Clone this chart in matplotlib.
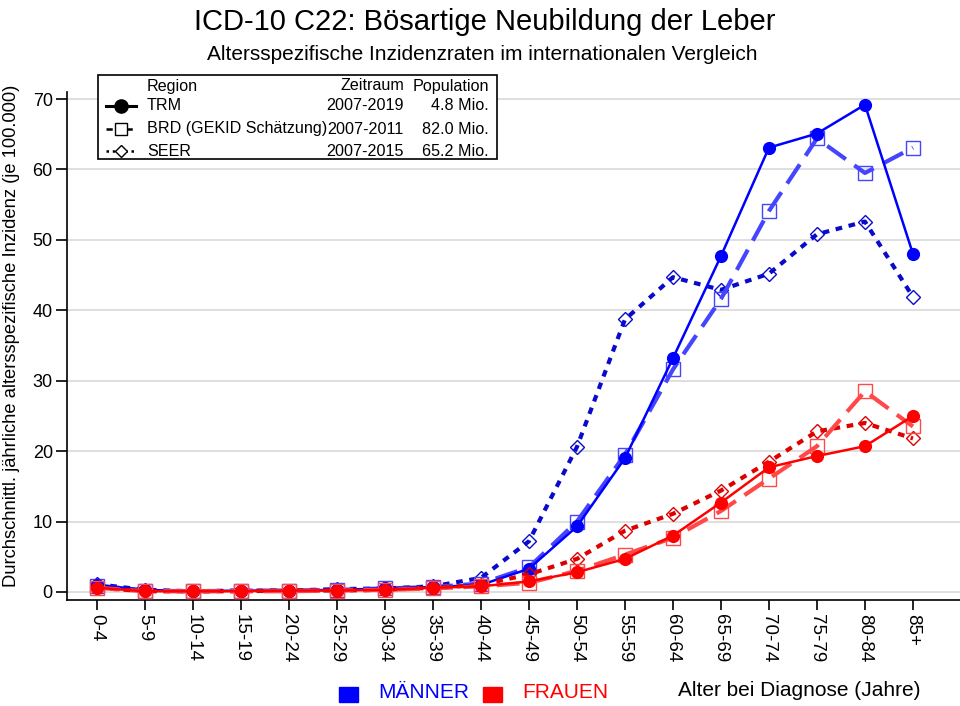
import matplotlib
matplotlib.use("Agg")
import matplotlib.pyplot as plt
from matplotlib.lines import Line2D
from matplotlib.patches import Rectangle
import numpy as np

plt.rcParams['font.family'] = ['Liberation Sans', 'DejaVu Sans']

age_groups = ["0-4", "5-9", "10-14", "15-19", "20-24", "25-29", "30-34", "35-39",
              "40-44", "45-49", "50-54", "55-59", "60-64", "65-69", "70-74",
              "75-79", "80-84", "85+"]

trm_men = [1.0, 0.3, 0.1, 0.2, 0.2, 0.3, 0.5, 0.7, 1.0, 3.3, 9.3, 19.0, 33.2, 47.7, 63.1, 65.1, 69.2, 48.0]
brd_men = [0.9, 0.2, 0.1, 0.2, 0.2, 0.3, 0.5, 0.7, 1.2, 3.5, 10.0, 19.5, 31.6, 41.6, 54.1, 64.4, 59.5, 63.1]
seer_men = [1.1, 0.3, 0.1, 0.2, 0.2, 0.4, 0.5, 0.8, 2.0, 7.2, 20.6, 38.7, 44.7, 42.9, 45.2, 50.8, 52.6, 41.9]
trm_women = [0.6, 0.1, 0.1, 0.1, 0.2, 0.2, 0.3, 0.6, 0.8, 1.5, 2.8, 4.7, 8.0, 12.7, 17.7, 19.3, 20.7, 25.0]
brd_women = [0.6, 0.1, 0.1, 0.1, 0.1, 0.2, 0.3, 0.5, 0.8, 1.3, 3.0, 5.3, 7.7, 11.5, 16.1, 20.7, 28.5, 23.5]
seer_women = [0.6, 0.1, 0.1, 0.1, 0.2, 0.2, 0.3, 0.6, 1.0, 2.5, 4.7, 8.7, 11.1, 14.4, 18.5, 22.8, 24.0, 21.8]

legend_regions = ["TRM", "BRD (GEKID Schätzung)", "SEER"]
legend_periods = ["2007-2019", "2007-2011", "2007-2015"]
legend_pops = ["4.8 Mio.", "82.0 Mio.", "65.2 Mio."]

W, H = 960, 706
fig = plt.figure(figsize=(W / 100, H / 100), dpi=100)

def fx(px):
    return px / W

def fy(py):
    return 1 - py / H

ax = fig.add_axes([fx(66.7), fy(600), fx(960) - fx(66.7), fy(92) - fy(600)])
x = np.arange(len(age_groups))

styles = {
    "seer": dict(ls=(0, (1.6, 1.6)), lw=3.0, marker="D", ms=7, mfc="none", mew=1.0),
    "brd": dict(ls=(0, (5.5, 2.5)), lw=3.0, marker="s", ms=10, mfc="none", mew=1.0),
    "trm": dict(ls="-", lw=1.8, marker="o", ms=9.5, mew=0),
}

ax.plot(x, seer_men, color="#0a0acd", **styles["seer"], zorder=3)
ax.plot(x, brd_men, color="#4545ff", **styles["brd"], zorder=3)
ax.plot(x, trm_men, color="#0000ff", **styles["trm"], zorder=3)
ax.plot(x, seer_women, color="#dc0000", **styles["seer"], zorder=4)
ax.plot(x, brd_women, color="#ff4848", **styles["brd"], zorder=4)
ax.plot(x, trm_women, color="#ff0000", **styles["trm"], zorder=4)

ax.set_xlim(-0.63, 17.98)
ax.set_ylim(-1.14, 71.0)
ax.set_yticks(np.arange(0, 71, 10))
ax.set_xticks(x)
ax.set_xticklabels(age_groups, rotation=270, fontsize=13.5)
ax.tick_params(axis="y", labelsize=13, length=8, width=1.2, pad=2)
ax.tick_params(axis="x", length=7, width=1.2, pad=3)
ax.grid(axis="y", color="#dcdcdc", lw=1.3)
ax.set_axisbelow(True)
for s in ["top", "right"]:
    ax.spines[s].set_visible(False)
for s in ["left", "bottom"]:
    ax.spines[s].set_linewidth(1.2)

ax.set_ylabel("Durchschnittl. jährliche altersspezifische Inzidenz (je 100.000)", fontsize=13.2)
ax.yaxis.set_label_coords(-0.052, 0.52)

fig.text(fx(485), fy(22), "ICD-10 C22: Bösartige Neubildung der Leber", ha="center", va="center", fontsize=21)
fig.text(fx(482), fy(55), "Altersspezifische Inzidenzraten im internationalen Vergleich", ha="center", va="center", fontsize=15)

# legend box
fig.add_artist(Rectangle((fx(98), fy(159)), fx(497) - fx(98), fy(75.5) - fy(159),
                         transform=fig.transFigure, fill=True, facecolor="white",
                         edgecolor="black", lw=1.2, zorder=10))
lfs = 11.6
fig.text(fx(147), fy(86), "Region", fontsize=lfs, va="center", ha="left", zorder=11)
fig.text(fx(404), fy(86), "Zeitraum", fontsize=lfs, va="center", ha="right", zorder=11)
fig.text(fx(489), fy(86), "Population", fontsize=lfs, va="center", ha="right", zorder=11)
rows_y = [106, 129, 151]
handle_styles = [styles["trm"], styles["brd"], styles["seer"]]
handle_ls = ["-", (0, (2.5, 1.5)), (0, (1.0, 1.5))]
handle_lw = [2.2, 1.8, 1.8]
handle_ms = [9.5, 8, 6.5]
for ry, reg, per, pop, st, hls, hlw, hms in zip(rows_y, legend_regions, legend_periods, legend_pops,
                                               handle_styles, handle_ls, handle_lw, handle_ms):
    fig.add_artist(Line2D([fx(106), fx(136)], [fy(ry), fy(ry)], transform=fig.transFigure,
                          color="black", ls=hls, lw=hlw, zorder=11))
    fig.add_artist(Line2D([fx(121)], [fy(ry)], transform=fig.transFigure, color="black",
                          marker=st["marker"], ms=hms, mfc=("black" if st["marker"] == "o" else "white"),
                          mew=1.0, ls="none", zorder=12))
    fig.text(fx(147), fy(ry), reg, fontsize=lfs, va="center", ha="left", zorder=11)
    fig.text(fx(404), fy(ry), per, fontsize=lfs, va="center", ha="right", zorder=11)
    fig.text(fx(489), fy(ry), pop, fontsize=lfs, va="center", ha="right", zorder=11)

# bottom captions
fig.add_artist(Rectangle((fx(339), fy(702)), fx(358) - fx(339), fy(687) - fy(702),
                         transform=fig.transFigure, color="#0000ff"))
fig.text(fx(378), fy(692), "MÄNNER", color="#0000ff", fontsize=15, va="center", ha="left")
fig.add_artist(Rectangle((fx(483), fy(702)), fx(502) - fx(483), fy(687) - fy(702),
                         transform=fig.transFigure, color="#ff0000"))
fig.text(fx(522), fy(692), "FRAUEN", color="#ff0000", fontsize=15, va="center", ha="left")
fig.text(fx(921), fy(690), "Alter bei Diagnose (Jahre)", color="black", fontsize=15, va="center", ha="right")

fig.savefig("out.png", dpi=100)
